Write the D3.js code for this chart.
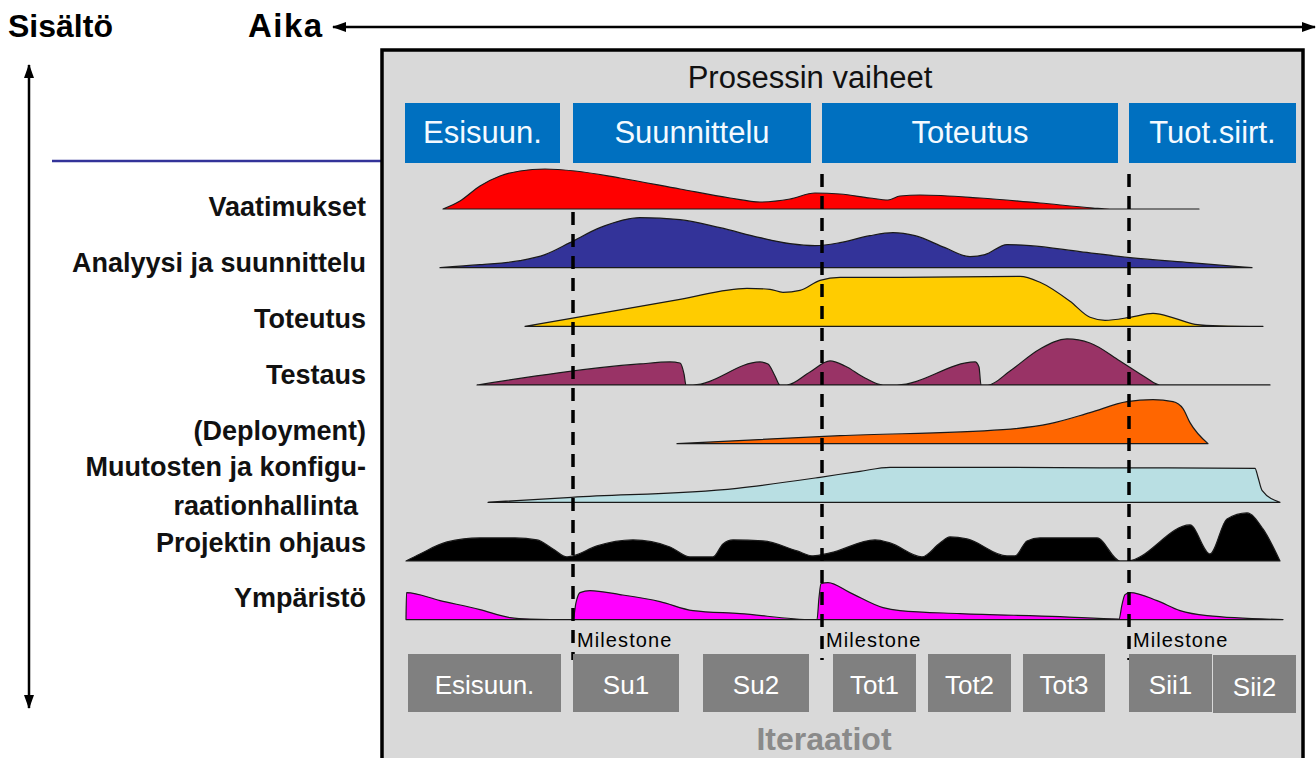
<!DOCTYPE html>
<html><head><meta charset="utf-8">
<script src="https://cdn.jsdelivr.net/npm/d3@7"></script>
<style>
body{margin:0;background:#fff}
svg{display:block}
text{font-family:Arial,"Liberation Sans",Helvetica,sans-serif}
</style>
</head><body>
<svg id="chart" width="1316" height="758"></svg>
<script>
// ---------- DATA ----------
const phases = ["Esisuun.", "Suunnittelu", "Toteutus", "Tuot.siirt."];
const phaseStart = [0, 16.8, 41.7, 72.4];
const phaseEnd = [15.5, 40.6, 71.3, 89.1];

const milestones = [16.8, 41.7, 72.4];
const milestoneLabel = "Milestone";

const iterations = ["Esisuun.", "Su1", "Su2", "Tot1", "Tot2", "Tot3", "Sii1", "Sii2"];
const iterStart = [0.3, 16.8, 29.8, 42.8, 52.3, 61.8, 72.4, 80.8];
const iterEnd = [15.6, 27.4, 40.4, 51.1, 60.6, 70.0, 80.7, 89.1];

const disciplines = ["Vaatimukset", "Analyysi ja suunnittelu", "Toteutus", "Testaus",
  "(Deployment)", "Muutosten ja konfiguraationhallinta", "Projektin ohjaus", "Ympäristö"];
const disciplineLabels = [["Vaatimukset"], ["Analyysi ja suunnittelu"], ["Toteutus"], ["Testaus"],
  ["(Deployment)"], ["Muutosten ja konfigu-", "raationhallinta"], ["Projektin ohjaus"], ["Ympäristö"]];

// effort curves: [time, effort]
const vaatimukset = [[3.8,0],[5.5,16],[7.5,46],[9.5,66],[11.5,76],[14,80],[17,76],[21.5,62],[27.5,40],[32.5,22],[35.5,14],[38.5,20],[41,32],[43.5,30],[46.5,22],[48.3,18],[49.5,26],[51.5,28],[57.5,22],[63.5,12],[68.8,2],[70.5,0],[79.4,0]];
const analyysi = [[3.5,0],[7.5,6],[11.5,14],[14,26],[16.5,50],[19.5,80],[23.5,100],[27.5,96],[31.5,80],[35.5,60],[38.5,48],[41,44],[43.5,50],[46.5,64],[48.8,70],[51,64],[54,40],[56.5,22],[58,26],[60.2,46],[62.5,44],[67.5,32],[72.5,20],[78.5,10],[84.7,0]];
const toteutus = [[12,0],[19.5,26],[27.5,54],[34.2,76],[36.5,74],[37.8,68],[39.5,72],[41.5,92],[43.5,98],[49.5,98],[61.5,100],[63.5,88],[66.5,50],[68.5,18],[70,12],[72.5,18],[74.8,26],[77,16],[79,4],[81.5,1],[85.8,0]];
const testaus = [[7.2,0],[23.5,42],[26.5,46],[27.5,44],[27.9,22],[28.1,0],[28.8,0],[35.5,46],[36.3,42],[37,18],[37.5,0],[38.2,0],[40.5,26],[42.5,48],[44,38],[46,14],[47.8,0],[49.2,0],[57,46],[57.4,36],[57.6,0],[58.3,0],[60.5,28],[63.5,72],[66.2,92],[68.5,84],[71.5,48],[74,16],[75.5,0],[86.5,0]];
const deployment = [[27.2,0],[43.5,16],[59.8,28],[64.5,40],[68.5,62],[72.2,84],[74.8,88],[76.8,84],[77.8,70],[78.5,42],[80.3,0]];
const muutostenhallinta = [[8.3,0],[16.7,10],[33.2,28],[41.5,50],[45.5,62],[48.5,70],[55.5,70],[69.5,69],[85,68],[85.3,50],[85.7,24],[87.5,0]];
const projektinOhjaus = [[0.1,0],[1.5,14],[4.2,38],[7.5,46],[11,46],[13.2,42],[14.8,24],[16.2,8],[16.8,10],[19.2,30],[22.8,42],[26.5,28],[28.5,8],[30.8,8],[31.8,34],[32.8,42],[35.8,40],[39.2,20],[40.8,10],[42.5,16],[47,42],[48.5,36],[51.7,8],[53.5,36],[54.5,48],[56.2,44],[60.2,10],[61,10],[62.2,40],[63.5,46],[69.2,46],[71.5,0],[72.2,0],[78.5,72],[80.5,14],[82.2,84],[84.2,96],[85.8,64],[87.5,0]];
const ymparisto = [[0.1,0],[0.15,54],[3.5,38],[7.5,20],[10.5,4],[12.5,1],[16.5,0],[16.8,0],[17.1,34],[17.5,54],[18.5,58],[21.5,50],[25.5,36],[28.8,18],[33.5,12],[40.8,0],[41.2,0],[41.4,44],[41.6,72],[42.3,74],[44.5,54],[47.8,24],[49.5,18],[55.5,12],[65.5,6],[71.4,1],[71.7,30],[72,50],[72.5,54],[75.2,38],[77.5,18],[80.2,8],[87.8,0]];

const curves = [vaatimukset, analyysi, toteutus, testaus, deployment, muutostenhallinta, projektinOhjaus, ymparisto];
const curveColors = ["#FF0000", "#333399", "#FFCC00", "#993366", "#FF6600", "#B9DFE3", "#000000", "#FF00FF"];

// ---------- DRAW ----------
const svg = d3.select("#chart");
const x = d3.scaleLinear().domain([0, 90]).range([405, 1305]);
const row = d3.scalePoint().domain(disciplines).range([209, 619.6]);
const labelRow = d3.scalePoint().domain(disciplines).range([207, 598]);
const amp = d3.scaleLinear().domain([0, 100]).range([0, 50]);

// arrow markers
const defs = svg.append("defs");
defs.append("marker").attr("id", "arr").attr("viewBox", "0 0 14 10")
  .attr("refX", 13).attr("refY", 5).attr("markerWidth", 14).attr("markerHeight", 10)
  .attr("markerUnits", "userSpaceOnUse").attr("orient", "auto-start-reverse")
  .append("path").attr("d", "M0,0 L14,5 L0,10 Z").attr("fill", "#000");

// top texts
svg.append("text").attr("x", 8).attr("y", 37).attr("font-size", 32).attr("font-weight", "bold").text("Sisältö");
svg.append("text").attr("x", 248).attr("y", 37).attr("font-size", 33).attr("font-weight", "bold")
  .attr("letter-spacing", 1.5).text("Aika");
svg.append("line").attr("x1", 333).attr("x2", 1315).attr("y1", 27).attr("y2", 27)
  .attr("stroke", "#000").attr("stroke-width", 2.5)
  .attr("marker-start", "url(#arr)").attr("marker-end", "url(#arr)");
svg.append("line").attr("x1", 29).attr("x2", 29).attr("y1", 65).attr("y2", 708)
  .attr("stroke", "#000").attr("stroke-width", 2.5)
  .attr("marker-start", "url(#arr)").attr("marker-end", "url(#arr)");
svg.append("line").attr("x1", 52).attr("x2", 382).attr("y1", 161).attr("y2", 161)
  .attr("stroke", "#333399").attr("stroke-width", 2.5);

// main box
svg.append("rect").attr("x", 382).attr("y", 50).attr("width", 921).attr("height", 760)
  .attr("fill", "#D9D9D9").attr("stroke", "#000").attr("stroke-width", 3.5);

svg.append("text").attr("x", 810).attr("y", 88).attr("text-anchor", "middle")
  .attr("font-size", 31).attr("fill", "#111").text("Prosessin vaiheet");

// phases
const pg = svg.append("g").selectAll("g").data(phases).join("g");
pg.append("rect").attr("x", (d, i) => x(phaseStart[i])).attr("y", 103)
  .attr("width", (d, i) => x(phaseEnd[i]) - x(phaseStart[i])).attr("height", 60)
  .attr("fill", "#0070C0");
pg.append("text").attr("x", (d, i) => (x(phaseStart[i]) + x(phaseEnd[i])) / 2).attr("y", 143)
  .attr("text-anchor", "middle").attr("font-size", 31).attr("fill", "#F4FAFF").text(d => d);

// discipline labels
const lg = svg.append("g").selectAll("text").data(disciplines).join("text")
  .attr("x", 366).attr("y", d => labelRow(d)).attr("text-anchor", "end")
  .attr("font-size", 27).attr("font-weight", "bold").attr("fill", "#111");
lg.each(function(d, i) {
  const lines = disciplineLabels[i];
  const t = d3.select(this);
  lines.forEach((ln, j) => {
    t.append("tspan").attr("x", j > 0 ? 358 : 366)
      .attr("dy", j === 0 ? (0.35 - (lines.length - 1) * 0.72) + "em" : "1.44em")
      .text(ln);
  });
});

// curves
const area = base => d3.area()
  .x(d => x(d[0])).y0(base).y1(d => base - amp(d[1]))
  .curve(d3.curveMonotoneX);
svg.append("g").selectAll("path").data(disciplines).join("path")
  .attr("d", (d, i) => area(row(d))(curves[i]))
  .attr("fill", (d, i) => curveColors[i])
  .attr("stroke", "#1a1a1a").attr("stroke-width", 1.2).attr("stroke-linejoin", "round");

// milestone dashed lines
svg.append("g").selectAll("line").data(milestones).join("line")
  .attr("x1", d => x(d)).attr("x2", d => x(d))
  .attr("y1", (d, i) => i === 0 ? row(disciplines[0]) + 3 : 174).attr("y2", 660)
  .attr("stroke", "#000").attr("stroke-width", 3.5).attr("stroke-dasharray", "13,9");
svg.append("g").selectAll("text").data(milestones).join("text")
  .attr("x", d => x(d) + 4).attr("y", 647).attr("font-size", 20).attr("letter-spacing", 1.1)
  .attr("fill", "#000").text(milestoneLabel);

// iterations
const ig = svg.append("g").selectAll("g").data(iterations).join("g");
ig.append("rect").attr("x", (d, i) => x(iterStart[i])).attr("y", (d, i) => i === 7 ? 655 : 654)
  .attr("width", (d, i) => x(iterEnd[i]) - x(iterStart[i])).attr("height", 58)
  .attr("fill", "#808080");
ig.append("text").attr("x", (d, i) => (x(iterStart[i]) + x(iterEnd[i])) / 2).attr("y", (d, i) => i === 7 ? 696 : 694)
  .attr("text-anchor", "middle").attr("font-size", 26).attr("fill", "#fff").text(d => d);

svg.append("text").attr("x", 824).attr("y", 750).attr("text-anchor", "middle")
  .attr("font-size", 32).attr("font-weight", "bold").attr("fill", "#8A8A8A").text("Iteraatiot");
</script>
</body></html>
